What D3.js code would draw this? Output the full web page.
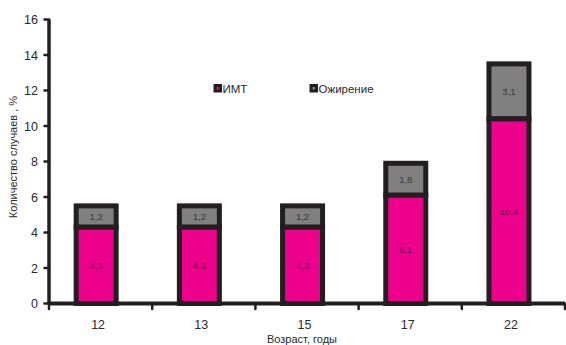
<!DOCTYPE html>
<html><head><meta charset="utf-8">
<script src="https://cdn.jsdelivr.net/npm/d3@7"></script>
<style>body{margin:0;background:#fff}svg{display:block}text{font-family:"Liberation Sans",Arial,sans-serif}</style>
</head><body><svg id="c" width="566" height="345"></svg>
<script>
const categories = ["12","13","15","17","22"];
const imt = [4.3, 4.3, 4.3, 6.1, 10.4];
const obesity = [1.2, 1.2, 1.2, 1.8, 3.1];
const imtLabels = ["4,3","4,3","4,3","6,1","10,4"];
const obesityLabels = ["1,2","1,2","1,2","1,8","3,1"];
const yTicks = [0,2,4,6,8,10,12,14,16];
const seriesNames = ["ИМТ","Ожирение"];

const svg = d3.select("#c");
const dark = "#231f20", pink = "#ec008c", gray = "#808080";
const x = d3.scaleBand().domain(categories).range([49, 565]).padding(0);
const y = d3.scaleLinear().domain([0,16]).range([303.5, 19.5]);
const bw = x.bandwidth();
const barW = 40;
const bx = c => x(c) + bw*0.457 - barW/2;

// y axis
svg.append("line").attr("x1",49).attr("x2",49).attr("y1",y(16)).attr("y2",y(0))
  .attr("stroke",dark).attr("stroke-width",3.5);
svg.selectAll(".yt").data(yTicks).join("line")
  .attr("x1",44.5).attr("x2",49).attr("y1",d=>y(d)).attr("y2",d=>y(d))
  .attr("stroke",dark).attr("stroke-width",2.5).attr("stroke-linecap","round");
svg.selectAll(".yl").data(yTicks).join("text")
  .attr("x",38).attr("y",d=>y(d)).attr("dy","0.36em").attr("text-anchor","end")
  .attr("font-size",12.5).attr("fill","#2a2a2a").text(d=>d);

// bars
categories.forEach((c,i)=>{
  svg.append("rect").attr("x",bx(c)).attr("width",barW)
    .attr("y",y(imt[i]+obesity[i])).attr("height",y(imt[i])-y(imt[i]+obesity[i]))
    .attr("fill",gray).attr("stroke",dark).attr("stroke-width",5);
  svg.append("rect").attr("x",bx(c)).attr("width",barW)
    .attr("y",y(imt[i])).attr("height",y(0)-y(imt[i]))
    .attr("fill",pink).attr("stroke",dark).attr("stroke-width",5);
  svg.append("text").attr("x",bx(c)+barW/2).attr("y",(y(imt[i])+y(imt[i]+obesity[i]))/2)
    .attr("dy","0.36em").attr("text-anchor","middle").attr("font-size",9.5).attr("fill","#3a3a3a")
    .text(obesityLabels[i]);
  svg.append("text").attr("x",bx(c)+barW/2).attr("y",(y(0)+y(imt[i]))/2)
    .attr("dy","0.36em").attr("text-anchor","middle").attr("font-size",9.5).attr("fill","#6e1048")
    .text(imtLabels[i]);
});

// x axis
svg.append("line").attr("x1",49).attr("x2",565).attr("y1",y(0)).attr("y2",y(0))
  .attr("stroke",dark).attr("stroke-width",4);
const bounds = categories.map(c=>x(c)).concat([x(categories[categories.length-1])+bw]);
svg.selectAll(".xt").data(bounds).join("line")
  .attr("x1",d=>d).attr("x2",d=>d).attr("y1",y(0)).attr("y2",y(0)+5.5)
  .attr("stroke",dark).attr("stroke-width",2.5).attr("stroke-linecap","round");
svg.selectAll(".xl").data(categories).join("text")
  .attr("x",c=>x(c)+bw/2-2.5).attr("y",329).attr("text-anchor","middle")
  .attr("font-size",12.5).attr("fill","#2a2a2a").text(c=>c);

svg.append("text").attr("x",302).attr("y",343).attr("text-anchor","middle")
  .attr("font-size",11).attr("fill","#2a2a2a").text("Возраст, годы");
svg.append("text").attr("transform","translate(17,157) rotate(-90)").attr("text-anchor","middle")
  .attr("font-size",11).attr("fill","#2a2a2a").text("Количество случаев , %");

// legend
const legX = [213.5, 309.5], legColors = [pink, gray];
seriesNames.forEach((n,i)=>{
  svg.append("rect").attr("x",legX[i]).attr("y",84).attr("width",8.5).attr("height",8.5).attr("fill",dark);
  svg.append("rect").attr("x",legX[i]+3).attr("y",87).attr("width",2.5).attr("height",2.5).attr("fill",legColors[i]);
  svg.append("text").attr("x",legX[i]+9).attr("y",88.5).attr("dy","0.36em")
    .attr("font-size",11.5).attr("fill","#2a2a2a").text(n);
});
</script></body></html>
